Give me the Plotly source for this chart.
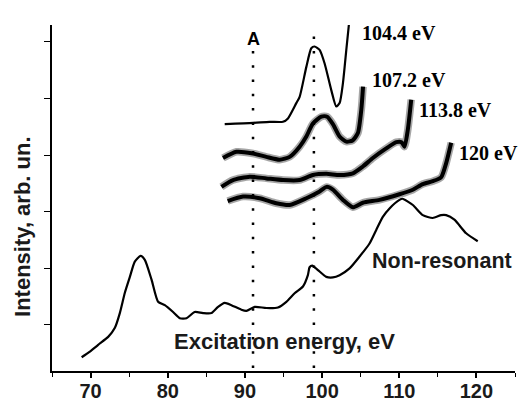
import plotly.graph_objects as go

# ---------------- data ----------------
nonres_x = [68.84, 69.91, 70.98, 72.28, 73.15, 73.79, 74.44, 75.09, 75.73, 76.47,
            77.03, 77.90, 78.75, 79.62, 80.69, 81.56, 82.43, 83.50, 84.57, 85.66,
            86.52, 87.38, 88.25, 89.54, 90.19, 91.27, 92.78, 94.28, 95.37, 96.44,
            97.52, 98.16, 98.38, 98.73, 99.46, 100.55, 101.40, 102.27, 103.56, 104.86,
            106.15, 107.02, 107.87, 108.74, 110.03, 110.42, 111.76, 113.05, 114.34, 115.43,
            116.08, 117.15, 118.67, 120.17]
nonres_y = [0.43, 0.53, 0.65, 0.79, 0.95, 1.21, 1.57, 1.85, 2.12, 2.22,
            2.15, 1.80, 1.41, 1.35, 1.23, 1.12, 1.12, 1.23, 1.21, 1.21,
            1.32, 1.39, 1.35, 1.27, 1.25, 1.32, 1.30, 1.31, 1.41, 1.56,
            1.68, 1.88, 2.02, 2.05, 1.97, 1.85, 1.84, 1.88, 2.00, 2.21,
            2.44, 2.68, 2.91, 3.06, 3.21, 3.23, 3.12, 2.94, 2.89, 2.94,
            2.94, 2.86, 2.62, 2.48]

e1044_x = [87.38, 91.05, 93.21, 94.93, 95.58, 96.66, 97.09, 97.96, 98.60, 99.03,
           99.68, 100.33, 101.19, 101.84, 102.27, 102.70, 103.14, 103.47]
e1044_y = [4.55, 4.57, 4.59, 4.59, 4.65, 4.92, 5.03, 5.56, 5.89, 5.92,
           5.86, 5.62, 5.15, 4.86, 4.92, 5.27, 5.86, 6.30]

e1072_x = [87.16, 88.90, 91.05, 92.78, 94.50, 95.80, 97.09, 97.96, 98.81, 99.90,
           100.65, 101.40, 102.27, 103.14, 103.95, 104.64, 105.08, 105.31]
e1072_y = [3.95, 4.06, 4.03, 3.97, 3.92, 3.97, 4.15, 4.33, 4.56, 4.68,
           4.68, 4.55, 4.33, 4.24, 4.26, 4.39, 4.80, 5.21]

e1138_x = [86.96, 88.46, 90.62, 92.78, 94.93, 97.09, 98.81, 100.55, 102.27, 103.99,
           105.28, 106.58, 108.31, 109.61, 110.29, 110.68, 111.11, 111.55]
e1138_y = [3.44, 3.56, 3.62, 3.59, 3.56, 3.56, 3.65, 3.67, 3.65, 3.68,
           3.80, 3.95, 4.12, 4.23, 4.23, 4.15, 4.45, 4.98]

e120_x = [87.77, 89.75, 91.91, 94.07, 95.80, 97.96, 99.68, 100.59, 101.40, 102.70,
          103.99, 105.28, 107.44, 110.03, 111.76, 113.05, 114.34, 115.43, 116.08, 116.73]
e120_y = [3.19, 3.27, 3.24, 3.15, 3.12, 3.24, 3.36, 3.44, 3.39, 3.21,
          3.08, 3.16, 3.21, 3.31, 3.39, 3.49, 3.54, 3.61, 3.86, 4.22]

spectrum_labels = ["104.4 eV", "107.2 eV", "113.8 eV", "120 eV"]
marker_energies = [91.05, 98.94]
marker_names = ["A", "B"]
x_tick_vals = [70, 80, 90, 100, 110, 120]
x_tick_text = ["70", "80", "90", "100", "110", "120"]
y_tick_vals = [1, 2, 3, 4, 5, 6]

# ---------------- figure ----------------
SANS = "Liberation Sans, Arial, sans-serif"
SERIF = "Liberation Serif, Times New Roman, serif"

fig = go.Figure()

# noisy spectra: fuzzy halo + core line
for xs, ys in [(e1072_x, e1072_y), (e1138_x, e1138_y), (e120_x, e120_y)]:
    fig.add_trace(go.Scatter(x=xs, y=ys, mode="lines",
                             line=dict(color="rgba(0,0,0,0.35)", width=7.5,
                                       shape="spline", smoothing=0.6),
                             hoverinfo="skip", showlegend=False))
    fig.add_trace(go.Scatter(x=xs, y=ys, mode="lines",
                             line=dict(color="black", width=4, shape="spline", smoothing=0.6),
                             showlegend=False))

# clean spectra
for xs, ys in [(nonres_x, nonres_y), (e1044_x, e1044_y)]:
    fig.add_trace(go.Scatter(x=xs, y=ys, mode="lines",
                             line=dict(color="black", width=2.2, shape="spline", smoothing=0.6),
                             showlegend=False))

# dotted marker lines A and B
line_tops = [5.88, 6.16]
for xe, top in zip(marker_energies, line_tops):
    fig.add_shape(type="line", xref="x", yref="y", x0=xe, x1=xe, y0=0.24, y1=top,
                  line=dict(color="black", width=2.5, dash="2.5px,11.8px"))

# annotations
label_pos = [(104.9, 6.16), (106.2, 5.33), (112.3, 4.80), (117.5, 4.04)]
for txt, (xa, ya) in zip(spectrum_labels, label_pos):
    fig.add_annotation(x=xa, y=ya, xref="x", yref="y", text=txt, showarrow=False,
                       xanchor="left", yanchor="middle",
                       font=dict(family=SERIF, size=20, color="black", weight="bold"))

name_pos = [6.06, 6.32]
for txt, xe, ya in zip(marker_names, marker_energies, name_pos):
    fig.add_annotation(x=xe, y=ya, xref="x", yref="y", text=txt, showarrow=False,
                       xanchor="center", yanchor="middle",
                       font=dict(family=SANS, size=18, color="black", weight="bold"))

fig.add_annotation(x=80.55, y=0.70, xref="x", yref="y", text="Excitation energy, eV",
                   showarrow=False, xanchor="left", yanchor="middle",
                   font=dict(family=SANS, size=22, color="#1a1a1a", weight="bold"))
fig.add_annotation(x=106.2, y=2.13, xref="x", yref="y", text="Non-resonant",
                   showarrow=False, xanchor="left", yanchor="middle",
                   font=dict(family=SANS, size=21.5, color="#1a1a1a", weight="bold"))
fig.add_annotation(x=-0.065, y=0.419, xref="paper", yref="paper", text="Intensity, arb. un.",
                   showarrow=False, textangle=-90, xanchor="center", yanchor="middle",
                   font=dict(family=SANS, size=22, color="#1a1a1a", weight="bold"))

fig.update_layout(
    template="none",
    width=520, height=401,
    margin=dict(l=52, r=5, t=25, b=30),
    paper_bgcolor="white", plot_bgcolor="white",
    showlegend=False,
    xaxis=dict(range=[65, 125], tickmode="array", tickvals=x_tick_vals, ticktext=x_tick_text,
               automargin=False,
               ticks="outside", ticklen=5, tickwidth=1.5, tickcolor="black",
               ticklabelstandoff=-4,
               showline=True, linecolor="black", linewidth=1.5,
               showgrid=False, zeroline=False,
               tickfont=dict(family=SANS, size=20, color="#1a1a1a", weight="bold"),
               minor=dict(tickmode="linear", tick0=65, dtick=5, ticks="outside",
                          ticklen=4, tickwidth=1.2, tickcolor="black", showgrid=False)),
    yaxis=dict(range=[0.187, 6.30], tickmode="array", tickvals=y_tick_vals,
               automargin=False,
               ticks="outside", ticklen=6, tickwidth=1.2, tickcolor="black",
               showticklabels=False,
               showline=True, linecolor="black", linewidth=1.5,
               showgrid=False, zeroline=False),
)

fig.write_html("out.html")
